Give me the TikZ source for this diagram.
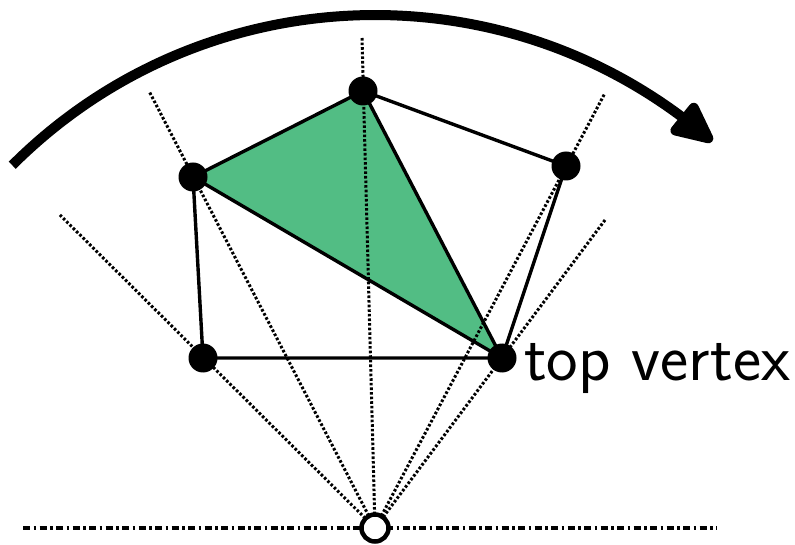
\documentclass[tikz,border=0pt]{standalone}
\usepackage{fontspec}
\usetikzlibrary{arrows.meta,bending}
\definecolor{tri}{RGB}{82,189,132}
\tikzset{
  ray/.style={line width=3pt, dash pattern=on 2.6pt off 2pt},
  edge/.style={line width=3.4pt, line join=round},
  vdot/.style={circle, fill=black, minimum size=29pt, inner sep=0pt},
  axis/.style={line width=3.4pt, dash pattern=on 7pt off 3.5pt on 2.5pt off 3.5pt},
}
\begin{document}
\begin{tikzpicture}[x=1pt,y=1pt]
\useasboundingbox (0,0) rectangle (795,544);
% coordinates
\coordinate (C) at (375,16);
\coordinate (A) at (363,453);
\coordinate (B) at (566,378);
\coordinate (D) at (502,186);
\coordinate (E) at (203,186);
\coordinate (F) at (193,367);
\coordinate (rA) at (362,506);
\coordinate (rF) at (149,453);
\coordinate (rE) at (59,330);
\coordinate (rB) at (605,451);
\coordinate (rD) at (605,324);
\coordinate (L1) at (23,16);
\coordinate (L2) at (717,16);
% green triangle
\fill[tri] (A) -- (F) -- (D) -- cycle;
% axis
\draw[axis] (L1) -- (L2);
% rays
\foreach \r in {rA,rF,rE,rB,rD} \draw[ray] (C) -- (\r);
% edges
\draw[edge] (A) -- (B) -- (D) -- (E) -- (F) -- cycle;
\draw[edge] (F) -- (D) -- (A);
% vertices
\foreach \v in {A,B,D,E,F} \node[vdot] (n\v) at (\v) {};
% centre
\node[circle, draw=black, fill=white, line width=4.5pt, minimum size=27pt, inner sep=0pt] (nC) at (C) {};
% label
\node[anchor=base west, inner sep=0pt, font=\sffamily\fontsize{67}{80}\selectfont] (lab) at (524,164) {top vertex};
% rotation arrow
\draw[line width=10pt, -{Triangle[length=48pt,width=42pt,round,flex]}] ([shift={(135:513)}]C) arc[start angle=135, end angle=48.9, radius=513];
\end{tikzpicture}
\end{document}
